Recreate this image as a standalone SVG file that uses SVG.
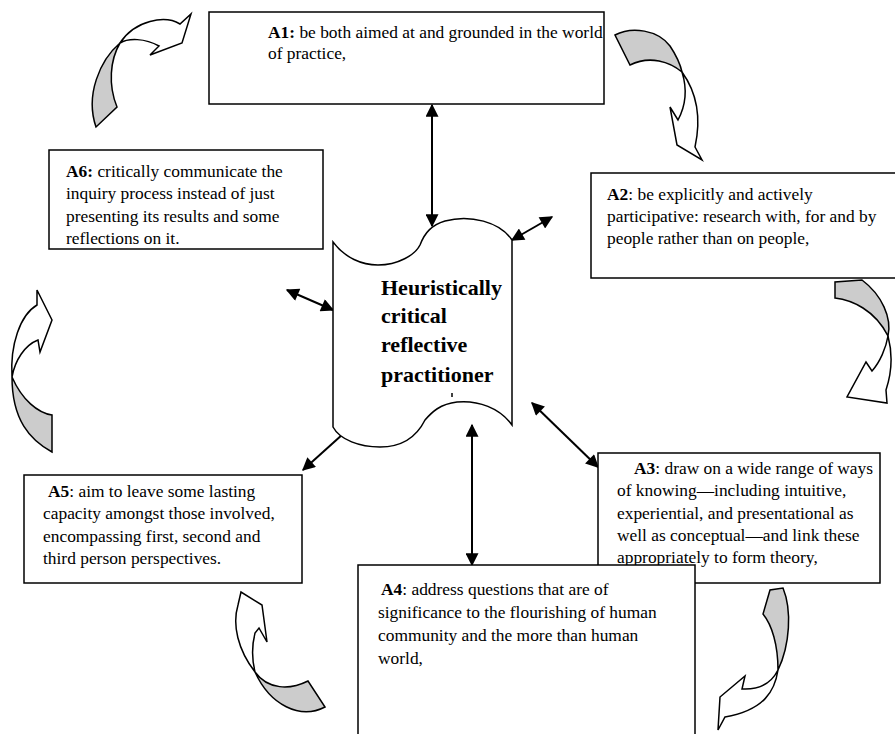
<svg xmlns="http://www.w3.org/2000/svg" width="895" height="734" viewBox="0 0 895 734">
<style>
.box{fill:#fff;stroke:#000;stroke-width:1.5}
.t{font-family:"Liberation Serif","Times New Roman",serif;font-size:17.4px;fill:#000}
.b{font-weight:bold}
.ct{font-family:"Liberation Serif","Times New Roman",serif;font-size:22px;font-weight:bold;fill:#000}
.con{stroke:#000;stroke-width:2;fill:none;marker-start:url(#ah);marker-end:url(#ah)}
.cw{fill:#fff;stroke:#000;stroke-width:1.5;stroke-linejoin:miter}
.cg{fill:#cccccc;stroke:#000;stroke-width:1.5}
</style>
<defs>
<marker id="ah" viewBox="0 0 10 10" refX="9" refY="5" markerUnits="userSpaceOnUse" markerWidth="14" markerHeight="13" orient="auto-start-reverse">
<path d="M0,0 L10,5 L0,10 Z" fill="#000"/>
</marker>
</defs>
<rect width="895" height="734" fill="#fff"/>

<g id="curved-arrows">
<g id="ca1">
<path class="cg" d="M120,43 C100,60 85,95 96,127 L117,107 C108,85 110,60 120,43 Z"/>
<path class="cw" d="M120,43 C135,20 165,15 180,24 L191,14 L182,43 L150,55 L159,46 C145,38 128,38 120,43 Z"/>
</g>
<g id="ca2">
<path class="cg" d="M615,35 C632,26 658,30 670,46 C676,55 680,63 682,72 C670,62 650,55 630,65 Z"/>
<path class="cw" d="M682,72 C695,90 702,115 695,147 L702,160 L677,145 L670,107 L678,120 C686,105 687,88 682,72 Z"/>
</g>
<g id="ca3">
<path class="cg" d="M835,282 L835,298 C852,300 875,310 888,336 C892,318 882,295 862,280 Z"/>
<path class="cw" d="M888,336 C893,355 891,375 886,390 L887,403 L847,397 L866,362 L872,371 C880,362 886,348 888,336 Z"/>
</g>
<g id="ca4">
<path class="cg" d="M770,590 L763,614 C772,625 778,645 778,670 C790,645 792,610 783,588 Z"/>
<path class="cw" d="M778,670 C775,690 765,710 725,717 L718,730 L720,697 L745,676 L742,689 C760,690 772,682 778,670 Z"/>
</g>
<g id="ca5">
<path class="cg" d="M255,672 C268,690 290,690 308,681 L325,707 C300,720 270,705 255,672 Z"/>
<path class="cw" d="M255,672 C238,650 232,625 238,605 L241,592 L262,605 L267,642 L259,628 L255,633 C252,645 252,660 255,672 Z"/>
</g>
<g id="ca6">
<path class="cg" d="M12,377 C22,400 38,413 52,415 L52,452 C30,440 12,420 12,377 Z"/>
<path class="cw" d="M12,377 C10,345 20,315 37,305 L37,290 L52,320 L40,352 L38,340 C25,345 15,360 12,377 Z"/>
</g>
</g>

<g id="connectors">
<line class="con" x1="432" y1="105" x2="432" y2="226"/>
<line class="con" x1="512" y1="240" x2="552" y2="217"/>
<line class="con" x1="287" y1="290" x2="333" y2="310"/>
<line class="con" x1="353" y1="425" x2="303" y2="470"/>
<line class="con" x1="472" y1="425" x2="472" y2="565"/>
<line class="con" x1="532" y1="403" x2="598" y2="467"/>
</g>

<g id="A1">
<rect class="box" x="209" y="12" width="395" height="92"/>
<text class="t" x="268" y="38"><tspan class="b">A1:</tspan> be both aimed at and grounded in the world</text>
<text class="t" x="268" y="59">of practice,</text>
</g>

<g id="A2">
<rect class="box" x="591" y="173" width="320" height="105"/>
<text class="t" x="607" y="200"><tspan class="b">A2</tspan>:  be explicitly and actively</text>
<text class="t" x="607" y="222">participative: research with, for and by</text>
<text class="t" x="607" y="244">people rather than on people,</text>
</g>

<g id="A3">
<rect class="box" x="598" y="453" width="282" height="130"/>
<text class="t" x="634" y="474"><tspan class="b">A3</tspan>: draw on a wide range of ways</text>
<text class="t" x="617" y="496">of knowing—including intuitive,</text>
<text class="t" x="617" y="519">experiential, and presentational as</text>
<text class="t" x="617" y="541">well as conceptual—and link these</text>
<text class="t" x="617" y="563">appropriately to form theory,</text>
</g>

<g id="A4">
<rect class="box" x="358" y="565" width="337" height="190"/>
<text class="t" x="381" y="595"><tspan class="b">A4</tspan>:  address questions that are of</text>
<text class="t" x="378" y="618">significance to the flourishing of human</text>
<text class="t" x="378" y="641">community and the more than human</text>
<text class="t" x="378" y="664">world,</text>
</g>

<g id="A5">
<rect class="box" x="24" y="475" width="278" height="108"/>
<text class="t" x="48" y="497"><tspan class="b">A5</tspan>: aim to leave some lasting</text>
<text class="t" x="43" y="519">capacity amongst those involved,</text>
<text class="t" x="43" y="542">encompassing first, second and</text>
<text class="t" x="43" y="564">third person perspectives.</text>
</g>

<g id="A6">
<rect class="box" x="49" y="150" width="274" height="99"/>
<text class="t" x="66" y="177"><tspan class="b">A6:</tspan>  critically communicate the</text>
<text class="t" x="66" y="199">inquiry process instead of just</text>
<text class="t" x="66" y="222">presenting its results and some</text>
<text class="t" x="66" y="244">reflections on it.</text>
</g>

<g id="center">
<path class="box" d="M333,242 C345,258 362,265 378,265 C398,265 415,255 420,245 C425,232 432,225 445,221 C470,214 500,222 512,240 L512,425 C500,408 478,400 457,402 C440,404 432,412 425,420 C415,440 398,447 380,447 C360,447 340,440 333,427 Z"/>
<text class="ct" x="381" y="295">Heuristically</text>
<text class="ct" x="381" y="323">critical</text>
<text class="ct" x="381" y="352">reflective</text>
<text class="ct" x="381" y="382">practitioner</text>
<line x1="452" y1="393" x2="452" y2="397" stroke="#000" stroke-width="1.5"/>
</g>
</svg>
